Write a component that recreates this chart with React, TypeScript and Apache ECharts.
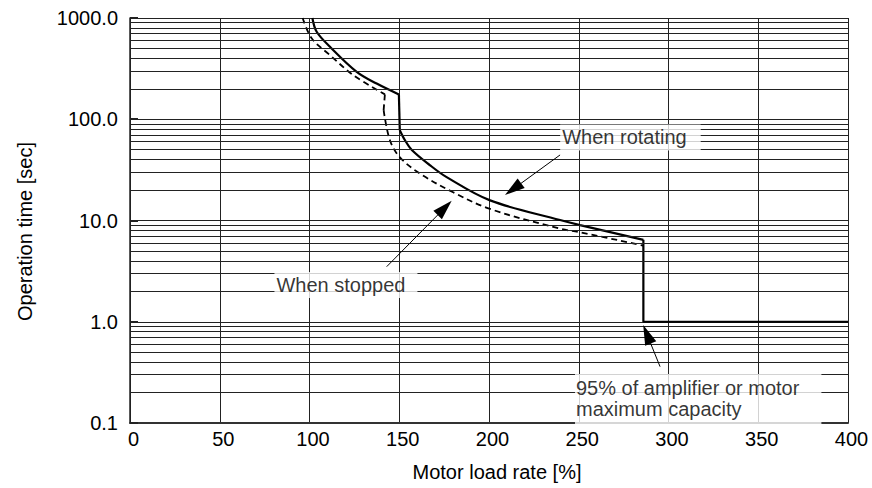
import React, { useEffect, useRef } from "react";
import * as echarts from "echarts";

const FONT = "'Liberation Sans', Arial, Helvetica, sans-serif";

// x: motor load rate [%], y: operation time [sec]
// "When rotating" (solid)
const rotatingUpper: [number, number][] = [
  [101.6, 1000], [104, 731], [111.4, 520], [126.3, 294], [137.4, 225], [149.8, 176],
];
const rotatingDrop: [number, number][] = [[149.8, 176], [150.3, 78]];
const rotatingLower: [number, number][] = [
  [150.3, 78], [153.2, 62], [157, 49.7], [167, 35.3], [176.4, 26.8],
  [200.6, 15.8], [239.6, 10.1], [250.7, 9.0], [286, 6.44],
];
const rotatingTail: [number, number][] = [[286, 6.44], [286, 1], [400, 1]];

// "When stopped" (dashed)
const stoppedUpper: [number, number][] = [
  [96.2, 1000], [101.2, 630], [111.4, 430], [124.4, 273], [142, 176],
];
const stoppedDrop: [number, number][] = [[142, 176], [141.3, 123]];
const stoppedLower: [number, number][] = [
  [141.3, 123], [144.8, 62], [150.4, 42], [161.6, 29], [180, 19],
  [200.6, 13], [239.6, 8.3], [250.7, 7.66], [286, 5.65],
];

const xMin = 0;
const xMax = 400;
const xStep = 50;
const yMin = 0.1;
const yMax = 1000;

const minorGridValues = [
  0.2, 0.3, 0.4, 0.5, 0.6, 0.7, 0.8, 0.9,
  2, 3, 4, 5, 6, 7, 8, 9,
  20, 30, 40, 50, 60, 70, 80, 90,
  200, 300, 400, 500, 600, 700, 800, 900,
];

const labelRotating = "When rotating";
const labelStopped = "When stopped";
const labelCapacity = "95% of amplifier or motor\nmaximum capacity";

// arrows: [from, to] in data coordinates
const arrowRotating: [number, number][] = [[239.6, 44.4], [213.4, 20.4]];
const arrowStopped: [number, number][] = [[143, 3.5], [175.3, 13.3]];
const arrowCapacity: [number, number][] = [[295.3, 0.36], [288, 0.752]];

const ARROW_HEAD = "path://M10,0 L16,20 L4,20 Z M0,0 L0,0 M20,20 L20,20";

export default function App() {
  const ref = useRef<HTMLDivElement>(null);

  useEffect(() => {
    document.body.style.margin = "0";
    if (!ref.current) return;
    const chart = echarts.init(ref.current, undefined, { renderer: "svg" });

    const textBase = { fontSize: 20, fontFamily: FONT, color: "#000" };

    const solid = { color: "#000", width: 2.2 };
    const dashed = { color: "#000", width: 1.8, type: [6, 4] };
    const curve = (name: string, data: [number, number][], lineStyle: any, smooth: number | boolean) => ({
      type: "line",
      name,
      data,
      symbol: "none",
      silent: true,
      smooth,
      lineStyle,
      z: 3,
    });

    const option = {
      animation: false,
      backgroundColor: "#fff",
      grid: { left: 130, right: 24, top: 18, bottom: 65, containLabel: false },
      xAxis: {
        type: "value",
        min: xMin,
        max: xMax,
        interval: xStep,
        name: "Motor load rate [%]",
        nameLocation: "middle",
        nameGap: 39,
        nameTextStyle: { ...textBase, padding: [0, 0, 0, 16] },
        axisLine: { show: true, onZero: false, lineStyle: { color: "#333", width: 2 } },
        axisTick: { show: false },
        axisLabel: { ...textBase, margin: 6, padding: [0, 0, 0, 7] },
        splitLine: { show: true, lineStyle: { color: "#222", width: 1 } },
      },
      yAxis: {
        type: "log",
        logBase: 10,
        min: yMin,
        max: yMax,
        name: "Operation time [sec]",
        nameLocation: "middle",
        nameRotate: 90,
        nameGap: 95,
        nameTextStyle: { ...textBase, padding: [0, 22, 0, 0] },
        axisLine: { show: true, onZero: false, lineStyle: { color: "#222", width: 1.5 } },
        axisTick: { show: true, inside: true, length: 8, lineStyle: { color: "#222", width: 2 } },
        axisLabel: {
          ...textBase,
          margin: 12,
          formatter: (v: number) => Number(v).toFixed(1),
        },
        splitLine: { show: true, lineStyle: { color: "#222", width: 1 } },
      },
      series: [
        {
          type: "line",
          name: "grid",
          data: [[0, 1]],
          symbol: "none",
          lineStyle: { opacity: 0 },
          silent: true,
          z: 1,
          markLine: {
            silent: true,
            animation: false,
            symbol: ["none", "none"],
            label: { show: false },
            lineStyle: { color: "#222", width: 1, type: "solid" },
            emphasis: { disabled: true },
            data: minorGridValues.map((v) => ({ yAxis: v })),
          },
        },
        curve(labelRotating, rotatingUpper, solid, 0.35),
        curve(labelRotating, rotatingDrop, solid, false),
        curve(labelRotating, rotatingLower, solid, 0.35),
        curve(labelRotating, rotatingTail, solid, false),
        curve(labelStopped, stoppedUpper, dashed, 0.35),
        curve(labelStopped, stoppedDrop, dashed, false),
        curve(labelStopped, stoppedLower, dashed, 0.35),
        {
          type: "scatter",
          name: "annotations",
          symbolSize: 0,
          silent: true,
          itemStyle: { color: "rgba(0,0,0,0)" },
          z: 5,
          data: [
            {
              value: [278.8, 66.1],
              label: {
                show: true,
                position: "inside",
                formatter: labelRotating,
                ...textBase,
                lineHeight: 20,
                backgroundColor: "#fff",
                padding: [3, 14, 3, 2],
              },
            },
            {
              value: [120.3, 2.31],
              label: {
                show: true,
                position: "inside",
                formatter: labelStopped,
                ...textBase,
                lineHeight: 20,
                backgroundColor: "#fff",
                padding: [3, 12, 3, 2],
              },
            },
            {
              value: [247.9, 0.1726],
              label: {
                show: true,
                position: "right",
                distance: 0,
                align: "left",
                verticalAlign: "middle",
                formatter: labelCapacity,
                ...textBase,
                lineHeight: 21,
                backgroundColor: "#fff",
                padding: [3, 22, 5, 1],
              },
            },
          ],
          markLine: {
            silent: true,
            animation: false,
            symbol: ["none", ARROW_HEAD],
            symbolSize: 20,
            label: { show: false },
            lineStyle: { color: "#000", width: 1, type: "solid" },
            emphasis: { disabled: true },
            data: [arrowRotating, arrowStopped, arrowCapacity].map((a) => [
              { coord: a[0] },
              { coord: a[1] },
            ]),
          },
        },
      ],
    };

    chart.setOption(option as any);
    return () => chart.dispose();
  }, []);

  return <div ref={ref} style={{ width: 872, height: 488 }} />;
}
